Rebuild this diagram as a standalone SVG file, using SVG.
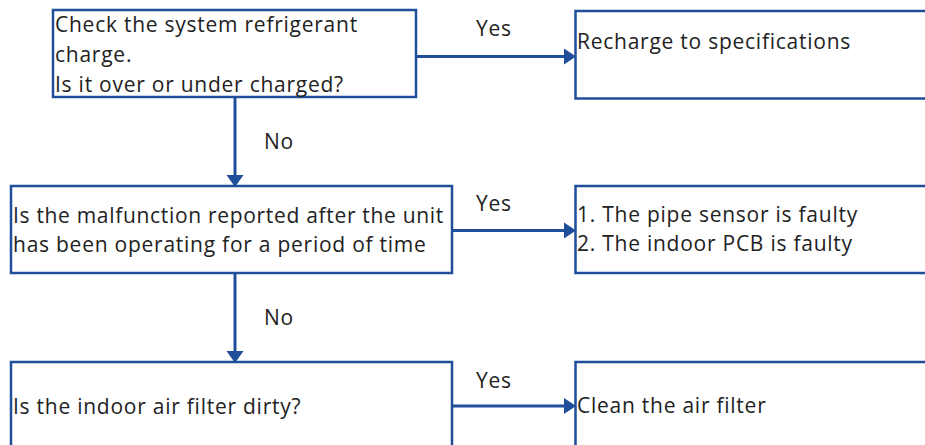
<svg xmlns="http://www.w3.org/2000/svg" width="925" height="445" viewBox="0 0 925 445">
<style>
.box{fill:#fff;stroke:#1f4e9a;stroke-width:2.5}
.t{font-family:"Open Sans","Liberation Sans",sans-serif;font-size:21px;letter-spacing:0.75px;fill:#222}
.c{stroke:#1f4e9a;stroke-width:3;fill:none}
.ah{fill:#1f4e9a}
</style>
<rect width="925" height="445" fill="#fff"/>
<g id="connectors">
<line class="c" x1="416" y1="56.5" x2="566" y2="56.5"/>
<polygon class="ah" points="564,48.5 576,56.5 564,64.5"/>
<line class="c" x1="235" y1="97" x2="235" y2="177"/>
<polygon class="ah" points="226.5,175 243.5,175 235,187"/>
<text class="t" x="476" y="36">Yes</text>
<text class="t" x="264" y="148.5">No</text>
<line class="c" x1="452" y1="230.5" x2="566" y2="230.5"/>
<polygon class="ah" points="564,222.5 576,230.5 564,238.5"/>
<line class="c" x1="235" y1="273" x2="235" y2="353"/>
<polygon class="ah" points="226.5,351 243.5,351 235,363"/>
<text class="t" x="476" y="210.5">Yes</text>
<text class="t" x="264" y="325">No</text>
<line class="c" x1="452" y1="406" x2="566" y2="406"/>
<polygon class="ah" points="564,398 576,406 564,414"/>
<text class="t" x="476" y="387.5">Yes</text>
</g>
<g id="n1">
<rect class="box" x="53" y="10" width="363" height="87"/>
<text class="t" x="55" y="32">Check the system refrigerant</text>
<text class="t" x="55" y="62">charge.</text>
<text class="t" x="55" y="92">Is it over or under charged?</text>
</g>
<g id="n2">
<rect class="box" x="575.5" y="11" width="360" height="87.5"/>
<text class="t" x="577" y="49">Recharge to specifications</text>
</g>
<g id="n3">
<rect class="box" x="11" y="186" width="441" height="87"/>
<text class="t" x="13" y="222.5" textLength="431" lengthAdjust="spacing">Is the malfunction reported after the unit</text>
<text class="t" x="13" y="251.5">has been operating for a period of time</text>
</g>
<g id="n4">
<rect class="box" x="575.5" y="186" width="360" height="87"/>
<text class="t" x="577" y="222">1. The pipe sensor is faulty</text>
<text class="t" x="577" y="251">2. The indoor PCB is faulty</text>
</g>
<g id="n5">
<rect class="box" x="11" y="362" width="441" height="100"/>
<text class="t" x="13" y="414">Is the indoor air filter dirty?</text>
</g>
<g id="n6">
<rect class="box" x="575.5" y="362" width="360" height="100"/>
<text class="t" x="577" y="412.5">Clean the air filter</text>
</g>
</svg>
